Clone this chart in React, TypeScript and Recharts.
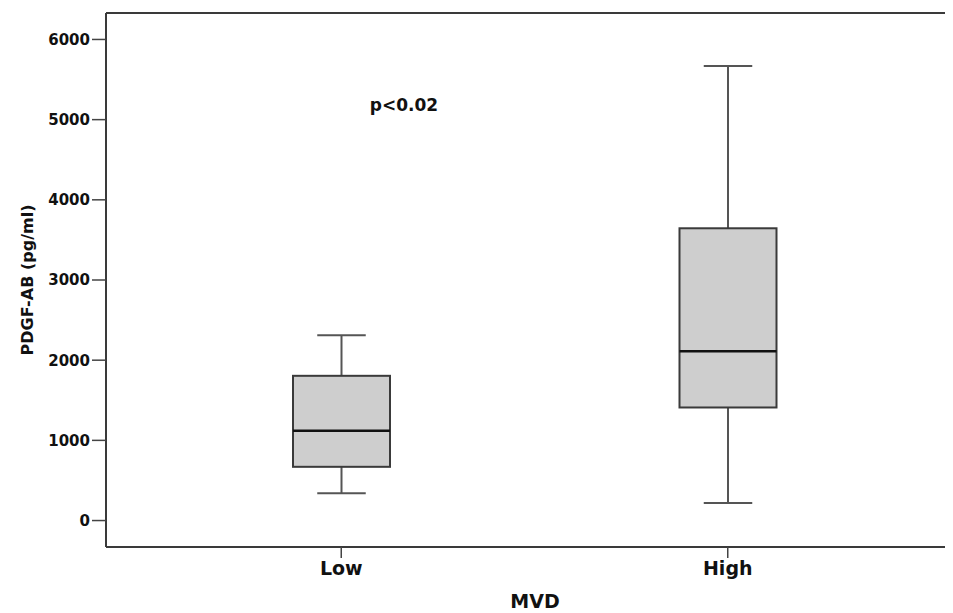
import React from 'react';
import { ComposedChart, Bar, XAxis, YAxis, ReferenceLine, Customized } from 'recharts';

const categories = ['Low', 'High'];
const mins = [340, 220];
const q1s = [670, 1410];
const medians = [1120, 2110];
const q3s = [1805, 3645];
const maxs = [2310, 5670];
const yTicks = [0, 1000, 2000, 3000, 4000, 5000, 6000];
const yDomain = [-330, 6330];

const data = categories.map((c, i) => ({
  name: c,
  min: mins[i],
  q1: q1s[i],
  median: medians[i],
  q3: q3s[i],
  max: maxs[i],
  range: [mins[i], maxs[i]],
}));

const FONT = '"DejaVu Sans", Arial, sans-serif';

const BoxShape = (props: any) => {
  const { x, y, width, height, payload } = props;
  if (x == null || y == null) return null;
  const top = Math.min(y, y + height);
  const h = Math.abs(height);
  const { min, q1, median, q3, max } = payload;
  const py = (v: number) => top + ((max - v) / (max - min)) * h;
  const cx = x + width / 2;
  const capHalf = width / 4;
  return (
    <g>
      <line x1={cx} x2={cx} y1={py(max)} y2={py(q3)} stroke="#555" strokeWidth={2} />
      <line x1={cx} x2={cx} y1={py(q1)} y2={py(min)} stroke="#555" strokeWidth={2} />
      <line x1={cx - capHalf} x2={cx + capHalf} y1={py(max)} y2={py(max)} stroke="#555" strokeWidth={2} />
      <line x1={cx - capHalf} x2={cx + capHalf} y1={py(min)} y2={py(min)} stroke="#555" strokeWidth={2} />
      <rect x={x} y={py(q3)} width={width} height={py(q1) - py(q3)} fill="#cecece" stroke="#3a3a3a" strokeWidth={2} />
      <line x1={x} x2={x + width} y1={py(median)} y2={py(median)} stroke="#111" strokeWidth={2.5} />
    </g>
  );
};

const Texts = () => (
  <g>
    <text x={27} y={280} transform="rotate(-90, 27, 280)" textAnchor="middle" dominantBaseline="central"
      fontFamily={FONT} fontWeight="bold" fontSize={16} fill="#111">PDGF-AB (pg/ml)</text>
    <text x={404} y={111} textAnchor="middle" fontFamily={FONT} fontWeight="bold" fontSize={17} fill="#111">p&lt;0.02</text>
    <text x={535} y={608} textAnchor="middle" fontFamily={FONT} fontWeight="bold" fontSize={19} fill="#111">MVD</text>
  </g>
);

export default function App() {
  return (
    <div style={{ marginLeft: -8, marginTop: -8, width: 953, height: 613, overflow: 'hidden' }}>
      <ComposedChart width={970} height={613} data={data} margin={{ top: 13, right: 0, bottom: 16, left: 46 }}>
        <XAxis
          dataKey="name"
          type="category"
          padding={{ left: 42, right: 49 }}
          height={50}
          tickSize={11}
          tickMargin={4}
          axisLine={{ stroke: '#3a3a3a', strokeWidth: 2 }}
          tickLine={{ stroke: '#444', strokeWidth: 1.5 }}
          tick={{ fontFamily: FONT, fontWeight: 'bold', fontSize: 19, fill: '#111' }}
        />
        <YAxis
          type="number"
          domain={yDomain}
          ticks={yTicks}
          width={60}
          tickSize={14}
          tickMargin={2}
          interval={0}
          axisLine={{ stroke: '#3a3a3a', strokeWidth: 2 }}
          tickLine={{ stroke: '#444', strokeWidth: 1.5 }}
          tick={{ fontFamily: FONT, fontWeight: 'bold', fontSize: 15, fill: '#111' }}
        />
        <ReferenceLine y={yDomain[1]} stroke="#3a3a3a" strokeWidth={2} />
        <Bar dataKey="range" barSize={97} shape={BoxShape} isAnimationActive={false} />
        <Customized component={Texts} />
      </ComposedChart>
    </div>
  );
}
